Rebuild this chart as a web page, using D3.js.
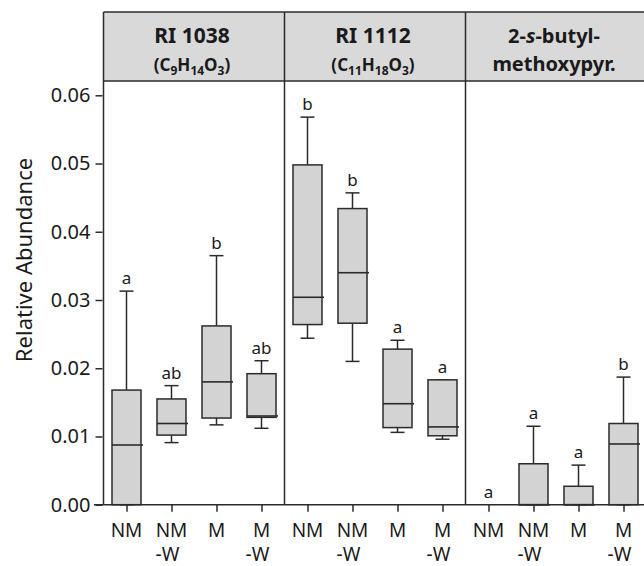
<!DOCTYPE html>
<html>
<head>
<meta charset="utf-8">
<script src="https://cdn.jsdelivr.net/npm/d3@7"></script>
<style>
  body { margin: 0; background: #fff; }
  text { font-family: "Noto Sans", sans-serif; fill: #1a1a1a; }
</style>
</head>
<body>
<div id="chart"></div>
<script>
// data
const panels = ["RI 1038", "RI 1112", "2-s-butyl-methoxypyr."];
const formulas = [[["C", "9"], ["H", "14"], ["O", "3"]], [["C", "11"], ["H", "18"], ["O", "3"]], null];
const groups = ["NM", "NM-W", "M", "M-W"];
const whiskerLo = [[0, 0.0091, 0.0117, 0.0112], [0.0244, 0.0210, 0.0106, 0.0096], [0, 0, 0, 0]];
const q1 = [[0, 0.0102, 0.0127, 0.0128], [0.0264, 0.0266, 0.0113, 0.0101], [0, 0, 0, 0]];
const medians = [[0.00875, 0.0119, 0.0180, 0.0130], [0.0304, 0.0340, 0.0148, 0.0114], [0, 0, 0, 0.0089]];
const q3 = [[0.0168, 0.0155, 0.0262, 0.0192], [0.0498, 0.0434, 0.0228, 0.0183], [0, 0.0060, 0.0027, 0.0119]];
const whiskerHi = [[0.0313, 0.01745, 0.0365, 0.0211], [0.0568, 0.0457, 0.0241, 0.0183], [0, 0.0115, 0.0058, 0.0187]];
const letters = [["a", "ab", "b", "ab"], ["b", "b", "a", "a"], ["a", "a", "a", "b"]];
const yTicks = [0, 0.01, 0.02, 0.03, 0.04, 0.05, 0.06];

const width = 644, height = 566;
const headTop = 12, headBottom = 81, axisY = 504.7;
const ink = "#2b2b2b";

const svg = d3.select("#chart").append("svg")
    .attr("width", width).attr("height", height);

const y = d3.scaleLinear().domain([0, 0.06]).range([axisY, 95.3]);
const px = d3.scaleBand().domain(panels).range([103.5, 646.5]);
const gx = d3.scalePoint().domain(groups).range([0, px.bandwidth()]).padding(0.511);

const boxW = 29, capW = 14;

// header strip
svg.append("rect")
    .attr("x", px.range()[0]).attr("y", headTop)
    .attr("width", px.range()[1] - px.range()[0] + 10).attr("height", headBottom - headTop)
    .attr("fill", "#d9d9d9");

// boxes
panels.forEach(function (p, pi) {
    const g = svg.append("g").attr("transform", "translate(" + px(p) + ",0)");

    groups.forEach(function (grp, i) {
        const cx = gx(grp);
        const lo = whiskerLo[pi][i], hi = whiskerHi[pi][i];
        if (hi === 0) return;
        // whiskers
        g.append("line").attr("x1", cx).attr("x2", cx)
            .attr("y1", y(hi)).attr("y2", y(q3[pi][i]))
            .attr("stroke", ink).attr("stroke-width", 1.5);
        g.append("line").attr("x1", cx).attr("x2", cx)
            .attr("y1", y(lo)).attr("y2", y(q1[pi][i]))
            .attr("stroke", ink).attr("stroke-width", 1.5);
        g.append("line").attr("x1", cx - capW / 2).attr("x2", cx + capW / 2)
            .attr("y1", y(hi)).attr("y2", y(hi))
            .attr("stroke", ink).attr("stroke-width", 1.5);
        g.append("line").attr("x1", cx - capW / 2).attr("x2", cx + capW / 2)
            .attr("y1", y(lo)).attr("y2", y(lo))
            .attr("stroke", ink).attr("stroke-width", 1.5);
        // box
        g.append("rect")
            .attr("x", cx - boxW / 2).attr("width", boxW)
            .attr("y", y(q3[pi][i])).attr("height", y(q1[pi][i]) - y(q3[pi][i]))
            .attr("fill", "#d3d3d3").attr("stroke", ink).attr("stroke-width", 1.5);
        // median
        g.append("line").attr("x1", cx - boxW / 2).attr("x2", cx + boxW / 2 + 2)
            .attr("y1", y(medians[pi][i])).attr("y2", y(medians[pi][i]))
            .attr("stroke", ink).attr("stroke-width", 1.6);
    });

    // significance letters
    g.selectAll(".sig").data(groups).enter().append("text")
        .attr("class", "sig")
        .attr("x", function (d) { return gx(d); })
        .attr("y", function (d, i) { return y(whiskerHi[pi][i]) - 7; })
        .attr("text-anchor", "middle")
        .attr("font-size", 17)
        .text(function (d, i) { return letters[pi][i]; });

    // x axis ticks
    const xAxis = d3.axisBottom(gx).tickSize(7).tickFormat("");
    const ax = g.append("g").attr("transform", "translate(0," + axisY + ")").call(xAxis);
    ax.select(".domain").remove();
    ax.selectAll(".tick line").attr("stroke", ink).attr("stroke-width", 1.5);

    // x labels, two lines
    groups.forEach(function (grp) {
        const parts = grp.split("-");
        g.append("text").attr("x", gx(grp)).attr("y", 537)
            .attr("text-anchor", "middle").attr("font-size", 19).text(parts[0]);
        if (parts[1]) {
            g.append("text").attr("x", gx(grp) - 4).attr("y", 561)
                .attr("text-anchor", "middle").attr("font-size", 19).text("-" + parts[1]);
        }
    });

    // header titles
    const cxp = px.bandwidth() / 2 - 2;
    if (formulas[pi]) {
        g.append("text").attr("x", cxp).attr("y", 43)
            .attr("text-anchor", "middle").attr("font-size", 21).attr("font-weight", "bold")
            .text(p);
        const f = g.append("text").attr("x", cxp).attr("y", 71)
            .attr("text-anchor", "middle").attr("font-size", 17).attr("font-weight", "bold");
        f.append("tspan").text("(");
        formulas[pi].forEach(function (el, k) {
            f.append("tspan").attr("dy", k === 0 ? 0 : -4).text(el[0]);
            f.append("tspan").attr("font-size", 12).attr("dy", 4).text(el[1]);
        });
        f.append("tspan").attr("dy", -4).text(")");
    } else {
        const t1 = g.append("text").attr("x", cxp).attr("y", 43)
            .attr("text-anchor", "middle").attr("font-size", 20).attr("font-weight", "bold");
        t1.append("tspan").text("2-");
        t1.append("tspan").attr("font-style", "italic").text("s");
        t1.append("tspan").text("-butyl-");
        g.append("text").attr("x", cxp).attr("y", 71)
            .attr("text-anchor", "middle").attr("font-size", 20).attr("font-weight", "bold")
            .text("methoxypyr.");
    }
});

// frame lines
svg.append("line").attr("x1", px.range()[0]).attr("x2", width)
    .attr("y1", headTop).attr("y2", headTop).attr("stroke", ink).attr("stroke-width", 1.5);
svg.append("line").attr("x1", px.range()[0]).attr("x2", width)
    .attr("y1", headBottom).attr("y2", headBottom).attr("stroke", ink).attr("stroke-width", 1.5);
panels.forEach(function (p, pi) {
    svg.append("line").attr("x1", px(p)).attr("x2", px(p))
        .attr("y1", headTop).attr("y2", axisY).attr("stroke", ink).attr("stroke-width", 1.5);
});
svg.append("line").attr("x1", 94).attr("x2", width)
    .attr("y1", axisY).attr("y2", axisY).attr("stroke", ink).attr("stroke-width", 1.5);

// y axis
const yAxis = d3.axisLeft(y).tickValues(yTicks).tickFormat(d3.format(".2f")).tickSize(7).tickPadding(5);
const ya = svg.append("g").attr("transform", "translate(" + (px.range()[0] - 1) + ",0)").call(yAxis);
ya.select(".domain").remove();
ya.selectAll(".tick line").attr("stroke", ink).attr("stroke-width", 1.5);
ya.selectAll(".tick text").attr("font-size", 20).attr("font-family", "Noto Sans").attr("fill", "#1a1a1a");

svg.append("text")
    .attr("transform", "translate(32,260) rotate(-90)")
    .attr("text-anchor", "middle").attr("font-size", 22)
    .text("Relative Abundance");
</script>
</body>
</html>
